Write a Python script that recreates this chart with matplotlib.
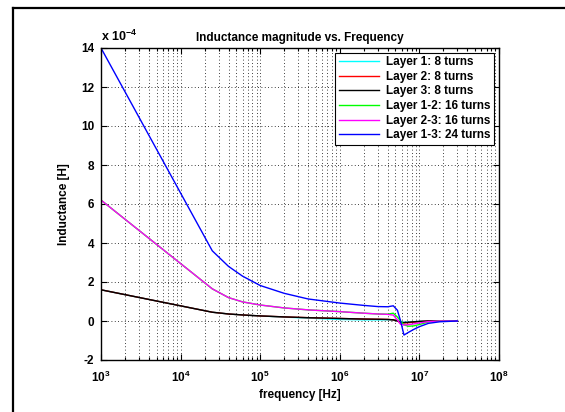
import matplotlib
matplotlib.use("Agg")
import matplotlib.pyplot as plt
from matplotlib.lines import Line2D
import numpy as np

plt.rcParams["font.family"] = ["Liberation Sans", "DejaVu Sans"]
plt.rcParams["font.weight"] = "bold"
plt.rcParams["mathtext.fontset"] = "custom"
plt.rcParams["mathtext.rm"] = "Liberation Sans:bold"
plt.rcParams["mathtext.it"] = "Liberation Sans:bold"
plt.rcParams["mathtext.bf"] = "Liberation Sans:bold"

# frequency samples [Hz]
freq = [1e3, 2.5e4, 4e4, 6e4, 1e5, 2e5, 4e5, 1e6, 2e6, 3e6, 4e6, 4.7e6, 5.3e6,
        5.8e6, 6.4e6, 7.3e6, 8.5e6, 1.0e7, 1.3e7, 1.8e7, 3e7]

# inductance values, in units of 1e-4 H
layer1 = [1.6, 0.45, 0.36, 0.31, 0.26, 0.20, 0.15, 0.08, 0.06, 0.06, 0.06, 0.05, 0.0,
          -0.05, -0.07, -0.06, -0.04, -0.02, 0.0, 0.0, 0.0]
layer2 = [1.6, 0.45, 0.36, 0.31, 0.26, 0.21, 0.17, 0.13, 0.10, 0.09, 0.08, 0.06, 0.0,
          -0.08, -0.10, -0.09, -0.06, -0.03, 0.0, 0.0, 0.0]
layer3 = [1.6, 0.45, 0.36, 0.31, 0.26, 0.21, 0.17, 0.13, 0.10, 0.09, 0.08, 0.06, 0.0,
          -0.06, -0.08, -0.06, -0.04, -0.02, 0.0, 0.0, 0.0]
layer12 = [6.2, 1.65, 1.2, 0.98, 0.82, 0.67, 0.57, 0.48, 0.40, 0.36, 0.35, 0.40, 0.20,
           0.0, -0.20, -0.27, -0.25, -0.18, -0.05, 0.0, 0.0]
layer23 = [6.2, 1.65, 1.2, 0.98, 0.82, 0.67, 0.57, 0.48, 0.40, 0.36, 0.34, 0.30, 0.05,
           -0.17, -0.20, -0.19, -0.15, -0.10, -0.03, 0.0, 0.0]
layer13 = [14.0, 3.6, 2.8, 2.3, 1.82, 1.42, 1.13, 0.92, 0.80, 0.74, 0.73, 0.78, 0.55,
           0.0, -0.72, -0.58, -0.43, -0.29, -0.12, -0.04, 0.0]

series = [
    (layer1, "#00ffff", "Layer 1: 8 turns"),
    (layer2, "#ff0000", "Layer 2: 8 turns"),
    (layer3, "#000000", "Layer 3: 8 turns"),
    (layer12, "#00ff00", "Layer 1-2: 16 turns"),
    (layer23, "#ff00ff", "Layer 2-3: 16 turns"),
    (layer13, "#0000ff", "Layer 1-3: 24 turns"),
]

yticks = [-2, 0, 2, 4, 6, 8, 10, 12, 14]
xticks = [1e3, 1e4, 1e5, 1e6, 1e7, 1e8]

fig = plt.figure(figsize=(5.65, 4.12), dpi=100)
ax = fig.add_axes([101 / 565, 52 / 412, 398 / 565, 312 / 412])

for vals, col, lab in series:
    ax.plot(freq, np.array(vals) * 1e-4, color=col, lw=1.0, label=lab)

ax.set_xscale("log")
ax.set_xlim(1e3, 1e8)
ax.set_ylim(-2e-4, 14e-4)
ax.set_xticks(xticks)
ax.set_xticklabels([f"$10^{{{int(np.log10(v))}}}$" for v in xticks])
ax.set_yticks([v * 1e-4 for v in yticks])
ax.set_yticklabels([str(v) for v in yticks])

ax.tick_params(which="both", direction="in", top=True, right=True, labelsize=8.5, width=0.8)
ax.tick_params(which="major", length=4)
ax.tick_params(which="minor", length=2)
ax.tick_params(axis="x", which="major", pad=7)
ax.tick_params(axis="y", which="major", pad=5)
ax.grid(True, which="major", color="black", linestyle=(0, (1, 3)), linewidth=0.6)
ax.grid(True, which="minor", axis="x", color="black", linestyle=(0, (1, 3)), linewidth=0.6)
for sp in ax.spines.values():
    sp.set_linewidth(1.0)

ax.set_title("Inductance magnitude vs. Frequency", fontsize=8.5, fontweight="bold", pad=5)
ax.set_xlabel("frequency [Hz]", fontsize=8.5, fontweight="bold", labelpad=3)
ax.set_ylabel("Inductance [H]", fontsize=8.5, fontweight="bold", labelpad=8)
ax.text(0.0, 1.012, r"x 10$^{\mathbf{-4}}$", transform=ax.transAxes, fontsize=9,
        fontweight="bold", ha="left", va="bottom")

leg = ax.legend(loc="upper right", fontsize=8.5, frameon=True, fancybox=False,
                edgecolor="black", handlelength=3.4, labelspacing=0.22,
                borderaxespad=0.4, borderpad=0.3, handletextpad=0.6)
leg.get_frame().set_linewidth(0.8)
leg.get_frame().set_alpha(1.0)

# outer frame, top and left edges
fig.add_artist(Line2D([13 / 565, 1.0], [1 - 8 / 412, 1 - 8 / 412], color="black", lw=1.6))
fig.add_artist(Line2D([13 / 565, 13 / 565], [0.0, 1 - 8 / 412], color="black", lw=1.6))

fig.savefig("out.png", dpi=100)
